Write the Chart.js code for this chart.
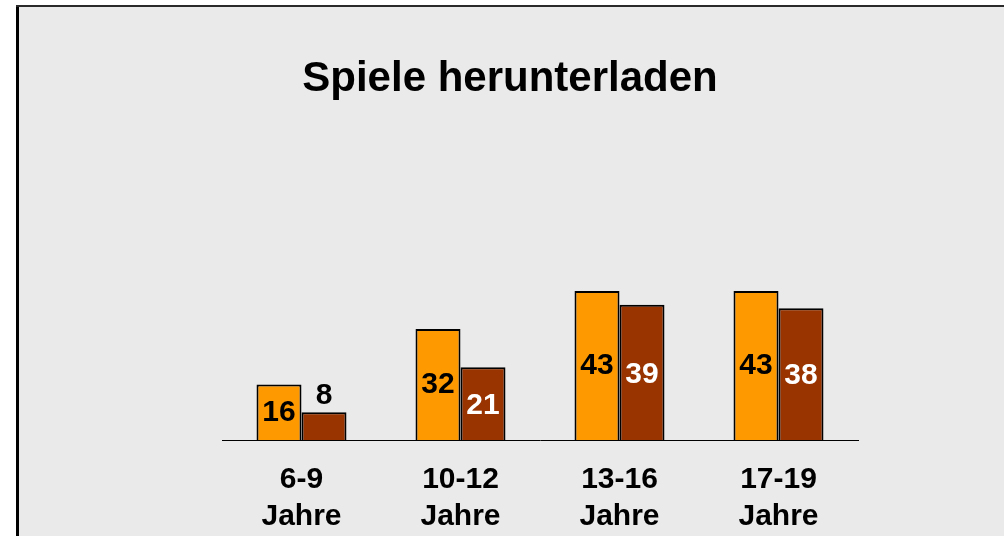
<!DOCTYPE html>
<html>
<head>
<meta charset="utf-8">
<script src="https://cdn.jsdelivr.net/npm/chart.js@4.4.1/dist/chart.umd.min.js"></script>
<style>
  html, body { margin: 0; padding: 0; background: #ffffff; }
  #wrap { width: 1004px; height: 536px; }
</style>
</head>
<body>
<div id="wrap"><canvas id="c" width="1004" height="536"></canvas></div>
<script>
// Age groups (two-line axis labels) and the two survey series
const categories = [["6-9", "Jahre"], ["10-12", "Jahre"], ["13-16", "Jahre"], ["17-19", "Jahre"]];
const seriesA = [16, 32, 43, 43];
const seriesB = [8, 21, 39, 38];
const chartTitle = "Spiele herunterladen";

const FONT = '"Liberation Sans", Arial, Helvetica, sans-serif';

// Panel background with a dark frame on its left and top edges
const framePlugin = {
  id: 'frame',
  beforeDraw(chart) {
    const ctx = chart.ctx;
    ctx.save();
    ctx.fillStyle = '#ffffff';
    ctx.fillRect(0, 0, chart.width, chart.height);
    ctx.fillStyle = '#eaeaea';
    ctx.fillRect(17, 6, chart.width - 17, chart.height - 6);
    ctx.fillStyle = '#000000';
    ctx.fillRect(16, 5, 3, chart.height - 5);
    ctx.fillStyle = '#2a2a2a';
    ctx.fillRect(16, 5, chart.width - 16, 2);
    ctx.restore();
  }
};

// Value labels: inside the bar when it is tall enough, otherwise just above it
const valueLabels = {
  id: 'valueLabels',
  afterDatasetsDraw(chart) {
    const ctx = chart.ctx;
    ctx.save();
    ctx.font = 'bold 30px ' + FONT;
    ctx.textAlign = 'center';
    ctx.textBaseline = 'middle';
    chart.data.datasets.forEach((ds, i) => {
      const meta = chart.getDatasetMeta(i);
      meta.data.forEach((bar, j) => {
        const p = bar.getProps(['x', 'y', 'base'], true);
        const h = p.base - p.y;
        let ty, color;
        if (h < 40) {
          ty = p.y - 17;
          color = '#000000';
        } else {
          ty = (p.y + p.base) / 2 + (i === 1 ? 2 : 0);
          color = ds.labelColor;
        }
        ctx.fillStyle = color;
        ctx.fillText(String(ds.data[j]), p.x, ty);
      });
    });
    ctx.restore();
  }
};

new Chart(document.getElementById('c'), {
  type: 'bar',
  data: {
    labels: categories,
    datasets: [
      {
        data: seriesA,
        backgroundColor: '#ff9900',
        borderColor: '#000000',
        borderWidth: 2,
        labelColor: '#000000',
        yAxisID: 'y'
      },
      {
        data: seriesB,
        backgroundColor: '#993300',
        borderColor: '#000000',
        borderWidth: 2,
        labelColor: '#ffffff',
        yAxisID: 'y'
      }
    ]
  },
  options: {
    responsive: false,
    animation: false,
    devicePixelRatio: 1,
    layout: { padding: { left: 16, right: 0, top: 5, bottom: 0 } },
    datasets: {
      bar: { barPercentage: 1.0, categoryPercentage: 0.566, borderSkipped: 'bottom' }
    },
    plugins: {
      legend: { display: false },
      tooltip: { enabled: false },
      title: {
        display: true,
        text: chartTitle,
        color: '#000000',
        font: { family: FONT, size: 42, weight: 'bold', lineHeight: 1.2 },
        padding: { top: 49, bottom: 127.6 }
      }
    },
    scales: {
      x: {
        grid: { display: false, drawTicks: false },
        border: { display: true, color: '#000000', width: 1 },
        ticks: {
          color: '#000000',
          font: { family: FONT, size: 30, weight: 'bold', lineHeight: 1.23 },
          padding: 21,
          maxRotation: 0,
          autoSkip: false
        },
        afterFit(s) { s.height = 96; }
      },
      y: {
        position: 'left',
        min: 0,
        max: 60,
        grid: { display: false, drawTicks: false },
        border: { display: false },
        ticks: { display: false },
        afterFit(s) { s.width = 206; }
      },
      y2: {
        position: 'right',
        min: 0,
        max: 60,
        grid: { display: false, drawTicks: false },
        border: { display: false },
        ticks: { display: false },
        afterFit(s) { s.width = 146; }
      }
    }
  },
  plugins: [framePlugin, valueLabels]
});
</script>
</body>
</html>
